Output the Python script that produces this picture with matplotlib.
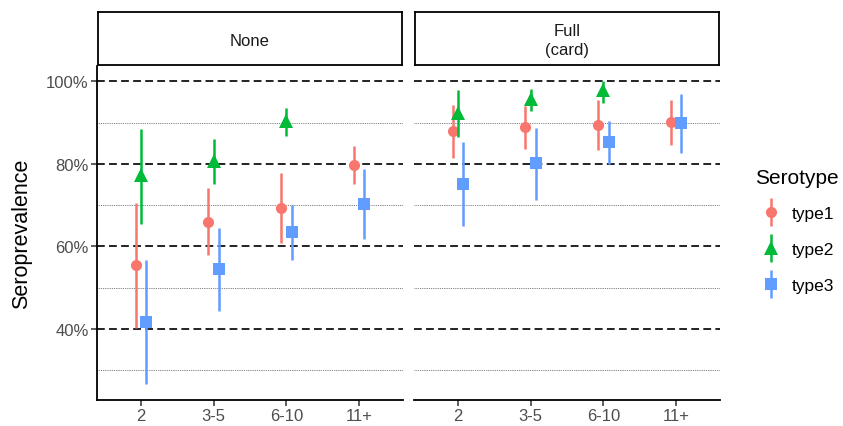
import numpy as np
import matplotlib.pyplot as plt
from matplotlib.container import ErrorbarContainer
from matplotlib.legend_handler import HandlerErrorbar

plt.rcParams['font.family'] = ['Liberation Sans', 'DejaVu Sans']

age_groups = ['2', '3-5', '6-10', '11+']
panel_titles = ['None', 'Full\n(card)']
serotypes = ['type1', 'type2', 'type3']

# rows = serotype, cols = age group
est_none = [[0.554, 0.660, 0.694, 0.797],
            [0.773, 0.807, 0.904, np.nan],
            [0.416, 0.545, 0.634, 0.702]]
lo_none = [[0.401, 0.579, 0.609, 0.751],
           [0.654, 0.752, 0.868, np.nan],
           [0.266, 0.444, 0.567, 0.617]]
hi_none = [[0.706, 0.741, 0.778, 0.843],
           [0.885, 0.861, 0.936, np.nan],
           [0.566, 0.644, 0.701, 0.787]]

est_full = [[0.880, 0.888, 0.894, 0.902],
            [0.924, 0.958, 0.979, np.nan],
            [0.751, 0.801, 0.852, 0.898]]
lo_full = [[0.815, 0.835, 0.833, 0.846],
           [0.864, 0.928, 0.948, np.nan],
           [0.648, 0.712, 0.799, 0.826]]
hi_full = [[0.943, 0.940, 0.955, 0.955],
           [0.978, 0.982, 1.000, np.nan],
           [0.853, 0.887, 0.903, 0.969]]

colors = ['#F8766D', '#00BA38', '#619CFF']
markers = ['o', '^', 's']
msizes = [8, 10, 8.5]
offsets = [-0.07, 0.0, 0.07]

W, H = 843, 427
fig = plt.figure(figsize=(W / 100, H / 100), dpi=100)

panel_x = [97, 414]
pw = 306
ytop, ybot = 67, 401
strip_top = 13

data = [(est_none, lo_none, hi_none), (est_full, lo_full, hi_full)]
handles = []
for p, (est, lo, hi) in enumerate(data):
    ax = fig.add_axes([panel_x[p] / W, (H - ybot) / H, pw / W, (ybot - ytop) / H])
    x = np.arange(len(age_groups))
    for val in [0.3, 0.5, 0.7, 0.9]:
        ax.axhline(val, color='#555555', lw=0.6, ls=(0, (1, 1.2)), zorder=1)
    for val in [0.4, 0.6, 0.8, 1.0]:
        ax.axhline(val, color='#222222', lw=1.4, ls=(0, (4, 2.2)), zorder=1)
    for i in range(len(serotypes)):
        e = np.array(est[i]); l = np.array(lo[i]); h = np.array(hi[i])
        c = ax.errorbar(x + offsets[i], e, yerr=[e - l, h - e], fmt=markers[i],
                        color=colors[i], ms=msizes[i], elinewidth=1.8, capsize=0,
                        mew=0, zorder=3 + i, label=serotypes[i])
        if p == 0:
            handles.append(c)
    ax.set_xlim(-0.6, 3.6)
    ax.set_ylim(0.2274, 1.037)
    ax.set_xticks(x)
    ax.set_xticklabels(age_groups, fontsize=12, color='#4D4D4D')
    ax.set_yticks([0.4, 0.6, 0.8, 1.0])
    for s in ['top', 'right']:
        ax.spines[s].set_visible(False)
    ax.spines['bottom'].set_linewidth(1.3)
    ax.spines['left'].set_linewidth(1.3)
    ax.tick_params(axis='both', length=4, width=1.1, color='#333333', pad=2)
    if p == 0:
        ax.set_yticklabels(['40%', '60%', '80%', '100%'], fontsize=12, color='#4D4D4D')
        ax.set_ylabel('Seroprevalence', fontsize=15.5, labelpad=10)
    else:
        ax.spines['left'].set_visible(False)
        ax.tick_params(axis='y', left=False, labelleft=False)

    sax = fig.add_axes([(panel_x[p] + 1) / W, (H - 66) / H, (pw - 2) / W, (66 - strip_top) / H])
    sax.set_xticks([]); sax.set_yticks([])
    for s in sax.spines.values():
        s.set_linewidth(1.3)
        s.set_color('black')
    sax.text(0.5, 0.47, panel_titles[p], ha='center', va='center', fontsize=12,
             color='#1A1A1A', transform=sax.transAxes, linespacing=1.3)

fig.text(755 / W, (H - 179) / H, 'Serotype', fontsize=15, va='center', ha='left')
leg = fig.legend(handles=handles, labels=serotypes, loc='upper left',
                 bbox_to_anchor=(754 / W, (H - 200) / H), frameon=False,
                 fontsize=12.5, handlelength=1.2, labelspacing=1.2,
                 handletextpad=0.6, borderaxespad=0,
                 handler_map={ErrorbarContainer: HandlerErrorbar(xerr_size=0.8)})

fig.savefig('out.png', dpi=100)
